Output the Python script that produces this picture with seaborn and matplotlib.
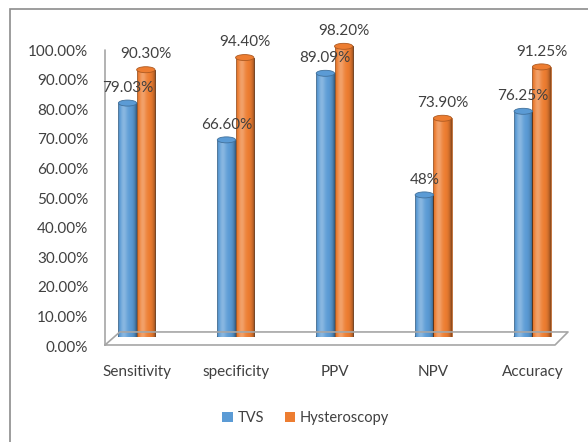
import numpy as np
import pandas as pd
import seaborn as sns
import matplotlib.pyplot as plt
from matplotlib.transforms import ScaledTranslation
from matplotlib.patches import Patch, Ellipse
from matplotlib.lines import Line2D

categories = ["Sensitivity", "specificity", "PPV", "NPV", "Accuracy"]
series_names = ["TVS", "Hysteroscopy"]
tvs = [0.7903, 0.666, 0.8909, 0.48, 0.7625]
hysteroscopy = [0.903, 0.944, 0.982, 0.739, 0.9125]
tvs_labels = ["79.03%", "66.60%", "89.09%", "48%", "76.25%"]
hys_labels = ["90.30%", "94.40%", "98.20%", "73.90%", "91.25%"]
colors = ["#5B9BD5", "#ED7D31"]
edges = ["#41719C", "#AE5A21"]

df = pd.DataFrame({
    "Metric": categories * 2,
    "Method": [series_names[0]] * 5 + [series_names[1]] * 5,
    "Value": tvs + hysteroscopy,
})

sns.set_theme(style="white")
plt.rcParams["font.family"] = ["Lato", "DejaVu Sans"]
plt.rcParams["text.color"] = "#404040"

fig = plt.figure(figsize=(5.88, 4.42), dpi=100)
ax = fig.add_axes([105 / 588, 105 / 442, 463 / 588, 296 / 442])

sns.barplot(data=df, x="Metric", y="Value", hue="Method", order=categories,
            hue_order=series_names, palette=colors, width=0.37, saturation=1,
            legend=False, ax=ax)

# cylinder-ish shading: light highlight left of centre, darker rims
t = np.linspace(0, 1, 64)
s = 0.28 * np.exp(-((t - 0.3) / 0.2) ** 2) - 0.45 * ((t - 0.45) / 0.55) ** 4
img = np.zeros((1, 64, 4))
img[0, :, :3] = np.where(s > 0, 1.0, 0.0)[:, None]
img[0, :, 3] = np.clip(np.abs(s), 0, 1)
cap_h = 6 / 296  # ellipse height in data units (~6 px)
for i, container in enumerate(ax.containers):
    for p in container:
        p.set_edgecolor(edges[i])
        p.set_linewidth(0.5)
        x0, y0 = p.get_x(), p.get_y()
        w, h = p.get_width(), p.get_height()
        im = ax.imshow(img, extent=[x0, x0 + w, y0, y0 + h], aspect="auto",
                       zorder=p.get_zorder() + 0.1, interpolation="bilinear")
        im.set_clip_path(p)
        # rounded top and bottom of the cylinder
        ax.add_patch(Ellipse((x0 + w / 2, y0 + h), w, cap_h, facecolor=colors[i],
                             edgecolor=edges[i], lw=0.6, zorder=p.get_zorder() + 0.2))
        ax.add_patch(Ellipse((x0 + w / 2, y0), w, cap_h, facecolor=edges[i],
                             edgecolor=edges[i], lw=0.6, zorder=p.get_zorder() - 0.1))

ax.bar_label(ax.containers[0], labels=tvs_labels, padding=6, fontsize=11, color="#404040")
ax.bar_label(ax.containers[1], labels=hys_labels, padding=6, fontsize=11, color="#404040")

ax.set_xlim(-0.32, 4.36)
ax.set_ylim(0, 1.0)
ax.set_yticks(np.arange(0, 1.01, 0.1))
ax.set_yticklabels([f"{v * 100:.2f}%" for v in np.arange(0, 1.01, 0.1)])
ax.set_xlabel("")
ax.set_ylabel("")
ax.tick_params(axis="y", length=0, pad=12, labelsize=11, labelcolor="#404040")
ax.tick_params(axis="x", length=0, pad=20, labelsize=11, labelcolor="#404040")
for lab in ax.get_yticklabels():
    lab.set_transform(lab.get_transform() + ScaledTranslation(0, -9 / 100, fig.dpi_scale_trans))
for s_ in ax.spines.values():
    s_.set_visible(False)
ax.grid(False)
ax.set_autoscale_on(False)

# 3D-style wall and floor outline
gray = "#A6A6A6"
ax.add_line(Line2D([0, 0], [-0.027, 0.97], transform=ax.transAxes, color=gray, lw=1.2, clip_on=False))
ax.add_line(Line2D([0, 0.972, 1.0, 0.032, 0], [-0.027, -0.027, 0.017, 0.017, -0.027],
                   transform=ax.transAxes, color=gray, lw=1.2, clip_on=False))

handles = [Patch(facecolor=c, edgecolor="none") for c in colors]
fig.legend(handles, series_names, loc="center", bbox_to_anchor=(0.52, 0.054), ncol=2,
           frameon=False, fontsize=10.5, handlelength=0.7, handleheight=0.7,
           handletextpad=0.35, columnspacing=1.4)

# chart border
fig.add_artist(plt.Rectangle((10 / 588, -0.1), 1.2, 1 - 9 / 442 + 0.1, transform=fig.transFigure,
                             fill=False, edgecolor="#8C8C8C", lw=1.2))

fig.savefig("out.png", dpi=100)
